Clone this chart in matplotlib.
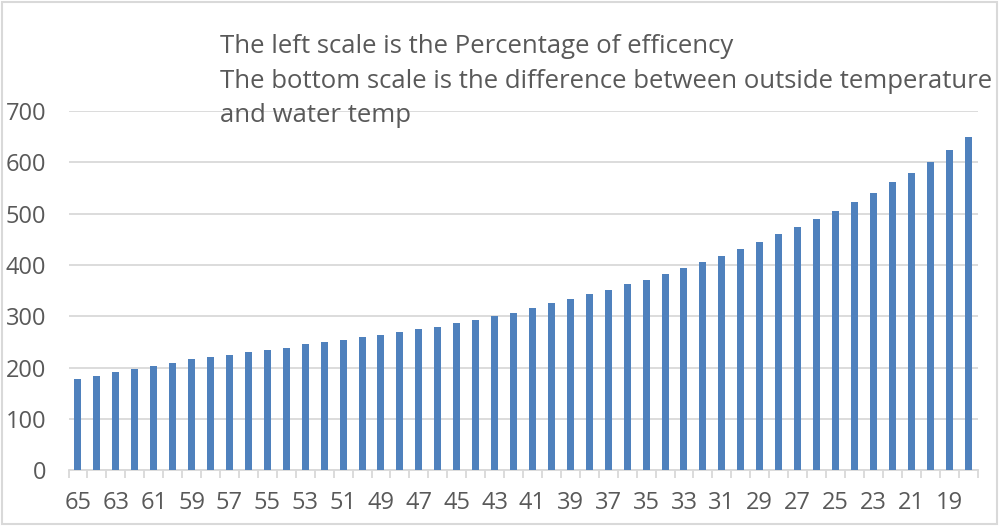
import matplotlib.pyplot as plt
from matplotlib.patches import Rectangle

# temperature difference (outside vs water), left to right
temp_diff = list(range(65, 17, -1))
efficiency = [
    178, 184, 191, 197, 203, 209, 216, 220, 225, 230, 234, 239, 245, 249, 254, 260,
    264, 269, 275, 280, 286, 292, 300, 307, 316, 326, 334, 343, 352, 362, 371, 382,
    394, 406, 418, 432, 445, 460, 474, 490, 505, 522, 541, 561, 580, 601, 625, 649,
]
y_ticks = [0, 100, 200, 300, 400, 500, 600, 700]
note_lines = [
    "The left scale is the Percentage of efficency",
    "The bottom scale is the difference between outside temperature",
    "and water temp",
]

plt.rcParams['font.family'] = ['Open Sans', 'DejaVu Sans']
text_color = "#595959"

fig = plt.figure(figsize=(10, 5.27), dpi=100)
ax = fig.add_axes([0.0685, 0.108, 0.909, 0.681])

x = list(range(len(temp_diff)))
ax.bar(x, efficiency, width=0.37, color="#4F81BD", zorder=3)

ax.set_xlim(-0.5, len(temp_diff) - 0.5)
ax.set_ylim(0, 700)
ax.set_yticks(y_ticks)
ax.set_yticklabels([str(v) for v in y_ticks])
ax.yaxis.grid(True, color="#D9D9D9", linewidth=1.3, zorder=0)
ax.tick_params(axis="y", length=0, pad=16, labelsize=17, labelcolor=text_color)

# label every other category, ticks on category boundaries
ax.set_xticks(x[::2])
ax.set_xticklabels([str(t) for t in temp_diff[::2]])
ax.tick_params(axis="x", which="major", length=0, pad=15, labelsize=17, labelcolor=text_color)
ax.set_xticks([i - 0.5 for i in range(len(temp_diff) + 1)], minor=True)
ax.tick_params(axis="x", which="minor", length=6, color="#D9D9D9", width=1.3)

for side in ["top", "right", "left"]:
    ax.spines[side].set_visible(False)
ax.spines["bottom"].set_color("#D9D9D9")
ax.spines["bottom"].set_linewidth(1.3)

fig.text(0.22, 0.935, "\n".join(note_lines), fontsize=18.5, color=text_color,
         va="top", ha="left", linespacing=1.5)

fig.patches.append(Rectangle((0.002, 0.006), 0.995, 0.99, transform=fig.transFigure,
                             fill=False, edgecolor="#D9D9D9", linewidth=1.5))

fig.savefig("out.png", dpi=100)
